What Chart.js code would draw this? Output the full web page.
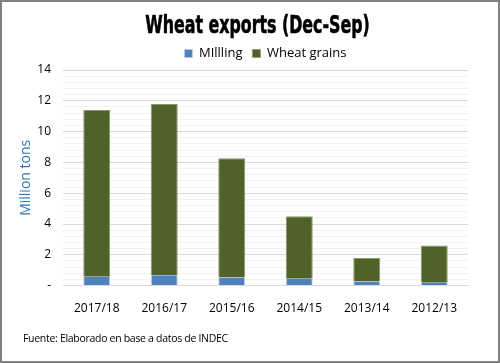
<!DOCTYPE html>
<html>
<head>
<meta charset="utf-8">
<script src="https://cdn.jsdelivr.net/npm/chart.js@4"></script>
<style>
    html, body { margin: 0; padding: 0; background: #fff; }
    #wrap {
        position: relative;
        width: 500px;
        height: 363px;
        box-sizing: border-box;
        border: 2px solid #7f7f7f;
    }
    #wheatChart { display: block; }
    #title {
        position: absolute;
        left: 0;
        width: 511px;
        top: 9px;
        text-align: center;
        font-family: "DejaVu Sans", sans-serif;
        font-weight: bold;
        font-size: 24px;
        color: #000;
        -webkit-text-stroke: 0.6px #000;
        transform: scaleX(0.66);
        transform-origin: center;
    }
    #source {
        position: absolute;
        left: 21px;
        top: 329px;
        font: 10.5px "Open Sans", sans-serif;
        color: #000;
        letter-spacing: -0.3px;
    }
</style>
</head>
<body>
<div id="wrap">
    <canvas id="wheatChart" width="496" height="359"></canvas>
    <div id="title">Wheat exports (Dec-Sep)</div>
    <div id="source">Fuente: Elaborado en base a datos de INDEC</div>
</div>
<script>
const seasons = ["2017/18", "2016/17", "2015/16", "2014/15", "2013/14", "2012/13"];
const milling = [0.58, 0.67, 0.52, 0.45, 0.26, 0.18];
const grains = [10.82, 11.13, 7.75, 4.05, 1.54, 2.42];

function isMajor(v) {
    const r = Math.round(v * 10) / 10;
    return Math.abs(r % 2) < 0.001;
}

const ctx = document.getElementById("wheatChart").getContext("2d");
const wheatChart = new Chart(ctx, {
    type: "bar",
    data: {
        labels: seasons,
        datasets: [
            {
                label: "MIllling",
                data: milling,
                backgroundColor: "#4f81bd",
                borderColor: "#c6d5ea",
                borderWidth: { left: 1, right: 1, top: 0, bottom: 0 },
                borderSkipped: false
            },
            {
                label: "Wheat grains",
                data: grains,
                backgroundColor: "#4f6228",
                borderColor: "#8a9a6a",
                borderWidth: { left: 1, right: 1, top: 1, bottom: 0 },
                borderSkipped: false
            }
        ]
    },
    options: {
        responsive: false,
        animation: false,
        devicePixelRatio: 1,
        layout: { padding: { left: 8, right: 30, top: 35, bottom: 37 } },
        datasets: {
            bar: { barPercentage: 0.4, categoryPercentage: 1 }
        },
        plugins: {
            title: { display: false },
            legend: {
                position: "top",
                fullSize: false,
                labels: {
                    boxWidth: 8,
                    boxHeight: 8,
                    color: "#000",
                    font: { family: "Open Sans", size: 13 },
                    padding: 10
                }
            },
            tooltip: { enabled: false }
        },
        scales: {
            x: {
                stacked: true,
                grid: { display: false },
                border: { display: true, color: "#d9d9d9" },
                ticks: {
                    color: "#000",
                    maxRotation: 0,
                    font: { family: "Open Sans", size: 12 },
                    padding: 8
                }
            },
            y: {
                stacked: true,
                min: 0,
                max: 14,
                border: { display: false },
                afterFit: function (axis) { axis.width = 53; },
                title: {
                    display: true,
                    text: "Million tons",
                    color: "#2e75b6",
                    font: { family: "Open Sans", size: 14 },
                    padding: { top: 8, bottom: 0 }
                },
                ticks: {
                    stepSize: 0.4,
                    autoSkip: false,
                    color: "#000",
                    font: { family: "Open Sans", size: 12 },
                    padding: 12,
                    callback: function (v) {
                        if (!isMajor(v)) return "";
                        if (Math.round(v) === 0) return "-";
                        return Math.round(v);
                    }
                },
                grid: {
                    drawTicks: false,
                    color: function (c) {
                        return isMajor(c.tick.value) ? "#d9d9d9" : "#f2f2f2";
                    }
                }
            }
        }
    }
});
</script>
</body>
</html>
